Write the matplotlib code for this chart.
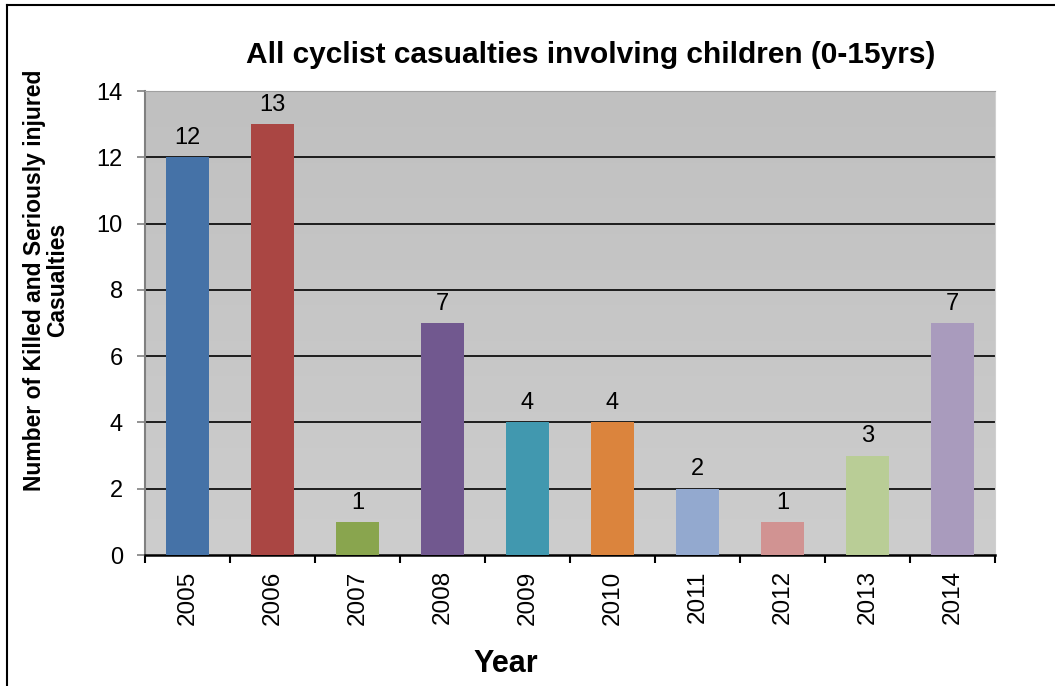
import matplotlib
matplotlib.use("Agg")
import matplotlib.pyplot as plt
import numpy as np
from matplotlib.lines import Line2D
from matplotlib.colors import LinearSegmentedColormap

plt.rcParams['font.family'] = ['Liberation Sans', 'DejaVu Sans']

years = ["2005", "2006", "2007", "2008", "2009", "2010", "2011", "2012", "2013", "2014"]
values = [12, 13, 1, 7, 4, 4, 2, 1, 3, 7]
colors = ["#4572A7", "#AA4643", "#89A54E", "#71588F", "#4198AF",
          "#DB843D", "#93A9CF", "#D19392", "#B9CD96", "#A99BBD"]
title = "All cyclist casualties involving children (0-15yrs)"
ylabel = "Number of Killed and Seriously injured\nCasualties"
xlabel = "Year"

W, H = 1055, 686
fig = plt.figure(figsize=(W / 100, H / 100), dpi=100)

# figure frame
fig.add_artist(Line2D([7 / W, 7 / W], [0, 1 - 5 / H], color="black", lw=1.5, transform=fig.transFigure))
fig.add_artist(Line2D([7 / W, 1], [1 - 5 / H, 1 - 5 / H], color="black", lw=1.5, transform=fig.transFigure))

left, right, top, bottom = 145, 995, 91, 555
ax = fig.add_axes([left / W, 1 - bottom / H, (right - left) / W, (bottom - top) / H])

# gradient background
grad = np.linspace(0, 1, 256).reshape(-1, 1)
cmap = LinearSegmentedColormap.from_list("bg", ["#c0c0c0", "#cdcdcd"])
ax.imshow(grad, aspect="auto", cmap=cmap, extent=[0, 1, 0, 1], transform=ax.transAxes, zorder=0)

x = np.arange(len(years))
ax.bar(x, values, width=0.5, color=colors, zorder=3)
ax.set_xlim(-0.5, len(years) - 0.5)
ax.set_ylim(0, 14)

for yv in range(2, 14, 2):
    ax.axhline(yv, color="black", lw=1.2, zorder=2)

for xi, v in zip(x, values):
    ax.annotate(str(v), (xi, v), xytext=(0, 6), textcoords="offset points",
                ha="center", va="bottom", fontsize=17, zorder=4)

ax.set_yticks(range(0, 15, 2))
ax.set_yticklabels([str(v) for v in range(0, 15, 2)], fontsize=17)
ax.tick_params(axis="y", direction="out", length=6, color="#808080", width=1.2, pad=10)

ax.set_xticks(x)
ax.set_xticklabels(years, rotation=90, fontsize=17.5)
ax.tick_params(axis="x", length=0, pad=11)
ax.set_xticks(np.arange(-0.5, len(years), 1), minor=True)
ax.tick_params(axis="x", which="minor", direction="out", length=6, color="black", width=1.5)

ax.spines["left"].set_color("#808080")
ax.spines["left"].set_linewidth(1.5)
ax.spines["bottom"].set_color("black")
ax.spines["bottom"].set_linewidth(1.8)
ax.spines["top"].set_color("#a0a0a0")
ax.spines["right"].set_color("#d0d0d0")

fig.text(591 / W, 1 - 55 / H, title, ha="center", va="center", fontsize=21.5, fontweight="bold")
fig.text(46 / W, 1 - 280 / H, ylabel, ha="center", va="center", rotation=90,
         fontsize=16.5, fontweight="bold", multialignment="center", linespacing=1.0)
fig.text(506 / W, 1 - 664 / H, xlabel, ha="center", va="center", fontsize=22, fontweight="bold")

fig.savefig("out.png", dpi=100)
